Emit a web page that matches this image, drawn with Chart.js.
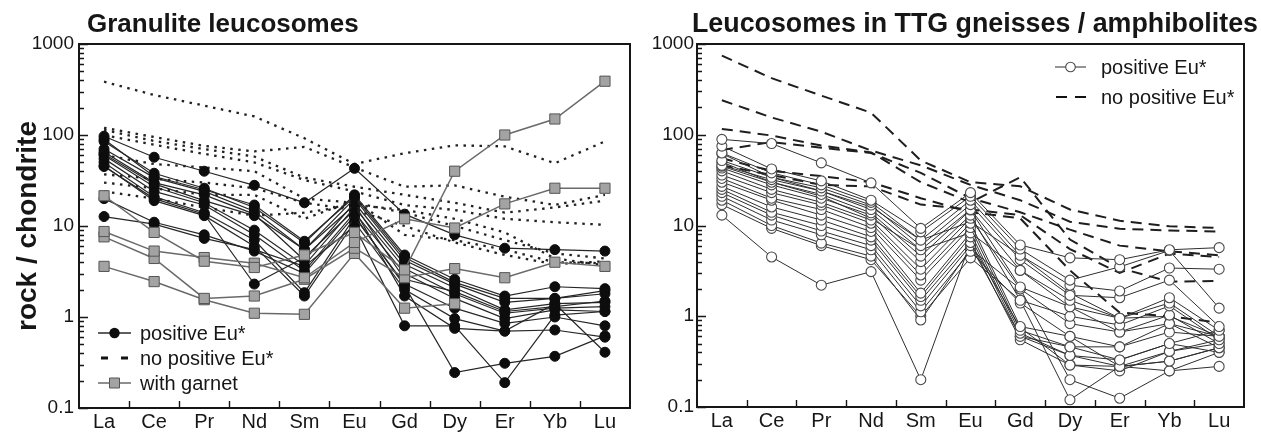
<!DOCTYPE html>
<html>
<head>
<meta charset="utf-8">
<script src="https://cdn.jsdelivr.net/npm/chart.js@4.4.1/dist/chart.umd.min.js"></script>
<style>
  html, body { margin: 0; padding: 0; background: #fff; }
  #wrap { position: relative; width: 1261px; height: 437px; overflow: hidden; background: #fff; }
  canvas { position: absolute; top: 0; }
  #left { left: 0; }
  #right { left: 640px; }
</style>
</head>
<body>
<div id="wrap">
  <canvas id="left" width="640" height="437"></canvas>
  <canvas id="right" width="621" height="437"></canvas>
</div>
<script>
// Rare earth elements along the x axis
const elements = ['La', 'Ce', 'Pr', 'Nd', 'Sm', 'Eu', 'Gd', 'Dy', 'Er', 'Yb', 'Lu'];

// Chondrite-normalised axis
const yTickLabels = [0.1, 1, 10, 100, 1000];
const yMinorTicks = [0.2, 0.3, 0.4, 0.5, 0.6, 0.7, 0.8, 0.9,
                     2, 3, 4, 5, 6, 7, 8, 9,
                     20, 30, 40, 50, 60, 70, 80, 90,
                     200, 300, 400, 500, 600, 700, 800, 900];

// Granulite leucosomes — positive Eu anomaly
const granPositiveEu = [
  [97, 57, 40, 28, 18, 43, 13.5, 8, 5.7, 5.5, 5.3],
  [90, 35, 25, 17, 6.8, 21, 4.5, 2.4, 1.6, 1.6, 1.95],
  [85, 38, 26, 16, 6.5, 22, 4.8, 2.6, 1.7, 2.15, 2.05],
  [70, 34, 24, 14.5, 5.5, 20, 4.2, 2.3, 1.45, 1.6, 1.8],
  [65, 30, 22, 13.5, 4.2, 18, 3.8, 2.1, 1.2, 1.4, 1.45],
  [62, 29, 19, 13, 5.5, 17, 2.6, 1.9, 1.15, 1.3, 1.5],
  [60, 27, 18, 9, 3.7, 16, 3.4, 1.8, 1.1, 1.25, 1.3],
  [55, 24, 17, 8, 3.2, 14, 3.0, 1.6, 0.96, 1.2, 1.15],
  [50, 21, 14, 7, 1.85, 12.5, 2.3, 1.25, 0.85, 1.0, 0.8],
  [46, 19, 13, 6, 1.7, 11, 2.0, 0.96, 0.7, 0.72, 0.6],
  [45, 20, 13.5, 2.3, 4.5, 15, 1.7, 0.75, 0.7, 1.4, 0.41],
  [20, 11, 8, 5.3, 3.0, 13, 2.2, 0.245, 0.31, 0.37, 0.62],
  [12.7, 10.5, 7.3, 5.5, 3.6, 10, 0.8, 0.8, 0.19, 1.05, 1.15]
];

// Granulite leucosomes — no positive Eu anomaly
const granNoPositiveEu = [
  [385, 275, 210, 160, 92, 48, 63, 77, 75, 49, 85],
  [120, 95, 76, 66, 74, 44, 27, 28, 21, 17, 22],
  [114, 86, 70, 58, 34, 27, 22, 18, 14, 16, 19],
  [100, 78, 62, 50, 32, 24, 17, 15, 12, 11, 10.3],
  [60, 48, 44, 40, 20, 18, 14, 10, 7, 5, 4.4],
  [37, 33, 30, 26, 18, 15, 10, 6.6, 4.8, 3.8, 4.1],
  [30, 26, 22, 22, 12, 19, 8, 7, 5.5, 4, 3.9],
  [24, 20, 16, 13, 14, 17, 15, 12, 8.5, 4.4, 3.7]
];

// Granulite leucosomes — garnet-bearing
const granGarnet = [
  [21.5, 8.5, 4.1, 3.5, 4.8, 8.5, 3.3, 40, 100, 150, 390],
  [8.7, 5.3, 4.5, 3.9, 2.7, 6.6, 12, 9.5, 17.5, 26, 26],
  [7.6, 4.4, 1.6, 1.7, 2.6, 5.7, 2.7, 3.4, 2.7, 4.0, 3.6],
  [3.6, 2.45, 1.55, 1.1, 1.07, 5.0, 1.25, 1.4, null, null, null]
];

// Leucosomes in TTG gneisses / amphibolites — positive Eu anomaly
const ttgPositiveEu = [
  [89, 80, 49, 29.5, 9.3, 23, 6.1, 4.4, 4.2, 5.4, 5.7],
  [75, 42, 31, 19, 8.5, 21, 5.5, 2.5, 3.5, 5.3, 1.23],
  [63, 38, 28, 18, 6.9, 19, 4.7, 2.2, 1.9, 3.4, 3.3],
  [52, 34, 26, 16.8, 6.0, 17, 4.2, 1.7, 1.6, 2.5, 0.77],
  [46, 32, 24, 15, 5.4, 15, 3.2, 1.5, 0.95, 1.6, 0.7],
  [45, 30, 22, 13.8, 4.6, 14.8, 2.1, 1.27, 0.95, 1.4, 0.6],
  [43, 28, 20, 13, 4.0, 13, 1.5, 1.0, 0.8, 1.3, 0.55],
  [40, 25, 18, 11.5, 3.3, 12, 2.0, 0.83, 0.67, 1.03, 0.5],
  [36, 23, 16.8, 10.6, 2.85, 10.6, 0.77, 0.6, 0.46, 0.83, 0.45],
  [33, 20, 15, 9.5, 2.5, 9.5, 0.7, 0.46, 0.46, 0.67, 0.6],
  [30, 19, 13, 8.6, 1.8, 8.3, 0.65, 0.37, 0.33, 0.5, 0.7],
  [27, 16, 11.5, 7.5, 1.65, 7.5, 0.6, 0.37, 0.28, 0.41, 0.55],
  [25, 14, 10, 6.9, 1.5, 6.5, 0.55, 0.29, 0.28, 0.32, 0.45],
  [23, 13, 8.7, 6.0, 1.3, 6.0, 0.6, 0.46, 0.33, 0.5, 0.4],
  [21, 11.5, 7.9, 5.4, 1.12, 5.2, 1.4, 0.6, 0.28, 0.25, 0.28],
  [19, 10, 6.4, 4.6, 0.91, 5.5, 2.0, 0.2, 0.125, 0.25, 0.4],
  [17, 9.3, 6, 4.2, 1.0, 4.4, 1.5, 0.12, 0.28, 0.32, 0.45],
  [13, 4.5, 2.2, 3.1, 0.2, 6.5, 0.75, 0.29, 0.25, 0.41, 0.5],
  [62, 34, 24, 16, 6.9, 11, 4.7, 1.8, 0.95, 1.0, 0.6],
  [50, 30, 21, 12, 5.4, 8.3, 3.2, 1.27, 0.67, 0.83, 0.6]
];

// Leucosomes in TTG gneisses / amphibolites — no positive Eu anomaly
const ttgNoPositiveEu = [
  [745, 420, 270, 175, 52, 30, 27, 15, 11.3, 9.8, 9.4],
  [240, 155, 108, 67, 46, 28, 19, 11, 9.2, 8.8, 8.6],
  [116, 98, 76, 64, 30, 18, 34, 7, 3.4, 2.4, 2.45],
  [68, 83, 72, 63, 38, 20, 14, 9, 6, 5.2, 4.7],
  [55, 40, 35, 30, 20, 14, 12, 3.2, 1.1, 1.0, 0.85],
  [46, 36, 28, 27, 17, 15, 13, 5.5, 3.0, 4.9, 4.5]
];

const FONT = '"Liberation Sans", Arial, Helvetica, sans-serif';
const INK = '#161616';

// Series styles
const styleSolidDot = {
  borderColor: '#262626', borderWidth: 1.2,
  pointStyle: 'circle', pointRadius: 5,
  pointBackgroundColor: '#0d0d0d', pointBorderColor: '#0d0d0d', pointBorderWidth: 1
};
const styleDotted = {
  borderColor: '#222', borderWidth: 2.3, borderDash: [2.5, 5.5],
  pointRadius: 0
};
const styleGarnet = {
  borderColor: '#6a6a6a', borderWidth: 1.5,
  pointStyle: 'rect', pointRadius: 7.2,
  pointBackgroundColor: '#a3a3a3', pointBorderColor: '#555', pointBorderWidth: 1
};
const styleOpen = {
  borderColor: '#2e2e2e', borderWidth: 1,
  pointStyle: 'circle', pointRadius: 5,
  pointBackgroundColor: '#fff', pointBorderColor: '#4a4a4a', pointBorderWidth: 1.1
};
const styleDashed = {
  borderColor: '#1e1e1e', borderWidth: 2, borderDash: [11, 7],
  pointRadius: 0
};

function toSets(rows, style, order) {
  return rows.map(r => Object.assign({
    data: r, order, fill: false, tension: 0, spanGaps: false,
    pointHoverRadius: 0, borderCapStyle: 'butt'
  }, style));
}

// Frame, inward ticks and free text for one panel
function panelDecor(opts) {
  return {
    id: 'panelDecor',
    afterDraw(chart) {
      const { ctx, chartArea: a, scales: { x, y } } = chart;
      ctx.save();
      ctx.strokeStyle = INK;
      // y ticks pointing into the plot
      ctx.lineWidth = 1.4;
      ctx.beginPath();
      yMinorTicks.forEach(v => {
        const py = Math.round(y.getPixelForValue(v)) + 0.5;
        ctx.moveTo(a.left, py); ctx.lineTo(a.left + 5, py);
      });
      yTickLabels.forEach(v => {
        const py = Math.round(y.getPixelForValue(v)) + 0.5;
        ctx.moveTo(a.left, py); ctx.lineTo(a.left + 9, py);
      });
      // x ticks between elements
      for (let i = 0; i < elements.length - 1; i++) {
        const px = Math.round((x.getPixelForValue(i) + x.getPixelForValue(i + 1)) / 2) + 0.5;
        ctx.moveTo(px, a.bottom); ctx.lineTo(px, a.bottom - 7);
      }
      ctx.stroke();
      // frame
      ctx.lineWidth = 2;
      ctx.strokeRect(a.left, a.top, a.right - a.left, a.bottom - a.top);

      // title
      ctx.fillStyle = INK;
      ctx.font = 'bold ' + opts.titleSize + 'px ' + FONT;
      ctx.textAlign = 'left';
      ctx.textBaseline = 'alphabetic';
      ctx.fillText(opts.title, opts.titleX, 32, opts.titleMax);

      // y axis title
      if (opts.yTitle) {
        ctx.save();
        ctx.translate(36, (a.top + a.bottom) / 2);
        ctx.rotate(-Math.PI / 2);
        ctx.textAlign = 'center';
        ctx.font = 'bold 28px ' + FONT;
        ctx.fillText(opts.yTitle, 0, 0);
        ctx.restore();
      }

      // legend
      ctx.font = '20px ' + FONT;
      ctx.textBaseline = 'middle';
      opts.legend.forEach(item => {
        const yy = item.y;
        ctx.save();
        if (item.kind === 'dot' || item.kind === 'square' || item.kind === 'open') {
          ctx.strokeStyle = item.kind === 'square' ? '#6a6a6a' : '#2a2a2a';
          ctx.lineWidth = item.kind === 'open' ? 1 : 1.4;
          ctx.beginPath();
          ctx.moveTo(item.x0, yy); ctx.lineTo(item.x1, yy);
          ctx.stroke();
          const cx = (item.x0 + item.x1) / 2;
          ctx.beginPath();
          if (item.kind === 'dot') {
            ctx.arc(cx, yy, 5.2, 0, Math.PI * 2);
            ctx.fillStyle = '#0d0d0d'; ctx.fill();
          } else if (item.kind === 'open') {
            ctx.arc(cx, yy, 4.8, 0, Math.PI * 2);
            ctx.fillStyle = '#fff'; ctx.fill();
            ctx.strokeStyle = '#4a4a4a'; ctx.lineWidth = 1.1; ctx.stroke();
          } else {
            ctx.rect(cx - 5, yy - 5, 10, 10);
            ctx.fillStyle = '#a3a3a3'; ctx.fill();
            ctx.strokeStyle = '#555'; ctx.lineWidth = 1; ctx.stroke();
          }
        } else {
          ctx.strokeStyle = '#111';
          ctx.lineWidth = item.kind === 'dots' ? 3.2 : 2;
          ctx.beginPath();
          item.dashes.forEach(d => { ctx.moveTo(d[0], yy); ctx.lineTo(d[1], yy); });
          ctx.stroke();
        }
        ctx.restore();
        ctx.fillStyle = INK;
        ctx.textAlign = 'left';
        ctx.fillText(item.text, item.tx, yy + 1);
      });
      ctx.restore();
    }
  };
}

function makeChart(canvasId, datasets, layout, decor) {
  return new Chart(document.getElementById(canvasId), {
    type: 'line',
    data: { labels: elements, datasets },
    options: {
      responsive: false,
      animation: false,
      devicePixelRatio: 1,
      events: [],
      layout: { padding: { left: 0, top: layout.top, right: layout.right, bottom: 0 } },
      plugins: { legend: { display: false }, tooltip: { enabled: false }, title: { display: false } },
      scales: {
        x: {
          type: 'category',
          offset: true,
          grid: { display: false, drawTicks: false },
          border: { display: false },
          ticks: { color: INK, font: { family: FONT, size: 20 }, padding: 2, maxRotation: 0, autoSkip: false },
          afterFit: s => { s.height = layout.xHeight; }
        },
        y: {
          type: 'logarithmic',
          min: 0.1, max: 1000,
          grid: { display: false, drawTicks: false },
          border: { display: false },
          afterBuildTicks: s => { s.ticks = yTickLabels.map(v => ({ value: v, major: true })); },
          ticks: {
            color: INK, font: { family: FONT, size: 19 }, padding: layout.yPad, autoSkip: false,
            callback: v => String(v)
          },
          afterFit: s => { s.width = layout.yWidth; }
        }
      }
    },
    plugins: [panelDecor(decor)]
  });
}

makeChart('left',
  [].concat(
    toSets(granGarnet, styleGarnet, 0),
    toSets(granPositiveEu, styleSolidDot, 1),
    toSets(granNoPositiveEu, styleDotted, 2)
  ),
  { top: 44, right: 10, xHeight: 29, yWidth: 79, yPad: 5 },
  {
    title: 'Granulite leucosomes', titleX: 87, titleSize: 26, titleMax: 280,
    yTitle: 'rock / chondrite',
    legend: [
      { kind: 'dot', x0: 98, x1: 131, y: 333, tx: 140, text: 'positive Eu*' },
      { kind: 'dots', dashes: [[101, 108], [121, 128]], y: 358, tx: 140, text: 'no positive Eu*' },
      { kind: 'square', x0: 98, x1: 131, y: 383, tx: 140, text: 'with garnet' }
    ]
  }
);

makeChart('right',
  [].concat(
    toSets(ttgPositiveEu, styleOpen, 0),
    toSets(ttgNoPositiveEu, styleDashed, 1)
  ),
  { top: 44, right: 17, xHeight: 30, yWidth: 57, yPad: 3 },
  {
    title: 'Leucosomes in TTG gneisses / amphibolites', titleX: 52, titleSize: 27, titleMax: 566,
    yTitle: null,
    legend: [
      { kind: 'open', x0: 415, x1: 446, y: 67, tx: 461, text: 'positive Eu*' },
      { kind: 'dashes', dashes: [[416, 427], [435, 446]], y: 97, tx: 461, text: 'no positive Eu*' }
    ]
  }
);
</script>
</body>
</html>
